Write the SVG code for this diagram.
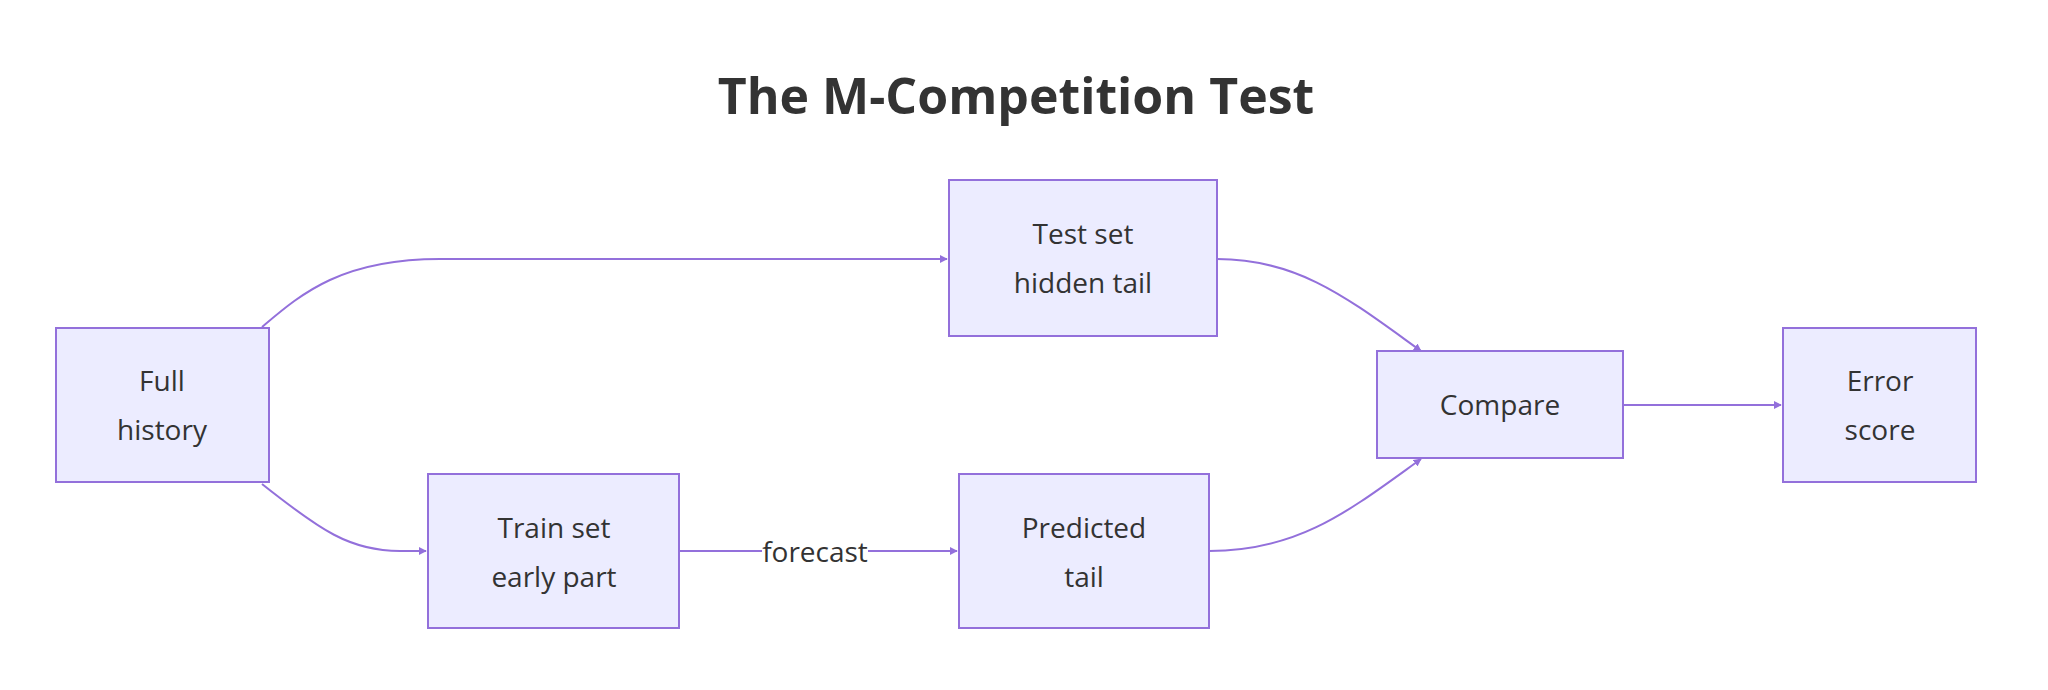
<svg xmlns="http://www.w3.org/2000/svg" width="2048" height="690" viewBox="0 0 2048 690">
<style>
.n rect{fill:#ECECFF;stroke:#9370DB;stroke-width:2}
text{font-family:"Open Sans","Liberation Sans",sans-serif;fill:#333;text-anchor:middle}
.n text{font-size:28px}
.e path{fill:none;stroke:#9370DB;stroke-width:2;marker-end:url(#a)}
</style>
<defs><marker id="a" viewBox="0 0 10 10" refX="9" refY="5" markerWidth="8" markerHeight="8" orient="auto" markerUnits="userSpaceOnUse" ><path d="M0,0L10,5L0,10z" fill="#9370DB"/></marker></defs>
<rect width="2048" height="690" fill="#fff"/>
<text x="1016" y="114" style="font-size:50px;font-weight:bold">The M-Competition Test</text>
<g class="e">
<path d="M262,327 C300,295 340,259 440,259 L947,259"/>
<path d="M1217,259 C1300,259 1350,300 1421,351"/>
<path d="M262,484 C320,530 350,551 400,551 L426,551"/>
<path d="M679,551 L957,551"/>
<path d="M1209,551 C1300,551 1350,510 1421,459"/>
<path d="M1623,405 L1781,405"/>
</g>
<rect x="762" y="533" width="106" height="36" fill="#fff"/>
<text x="815" y="562" style="font-size:28px">forecast</text>
<g class="n" id="full"><rect x="56" y="328" width="213" height="154"/><text x="162" y="391">Full</text><text x="162" y="440">history</text></g>
<g class="n" id="test"><rect x="949" y="180" width="268" height="156"/><text x="1083" y="244">Test set</text><text x="1083" y="293">hidden tail</text></g>
<g class="n" id="train"><rect x="428" y="474" width="251" height="154"/><text x="554" y="538">Train set</text><text x="554" y="587">early part</text></g>
<g class="n" id="pred"><rect x="959" y="474" width="250" height="154"/><text x="1084" y="538">Predicted</text><text x="1084" y="587">tail</text></g>
<g class="n" id="compare"><rect x="1377" y="351" width="246" height="107"/><text x="1500" y="415">Compare</text></g>
<g class="n" id="error"><rect x="1783" y="328" width="193" height="154"/><text x="1880" y="391">Error</text><text x="1880" y="440">score</text></g>
</svg>
